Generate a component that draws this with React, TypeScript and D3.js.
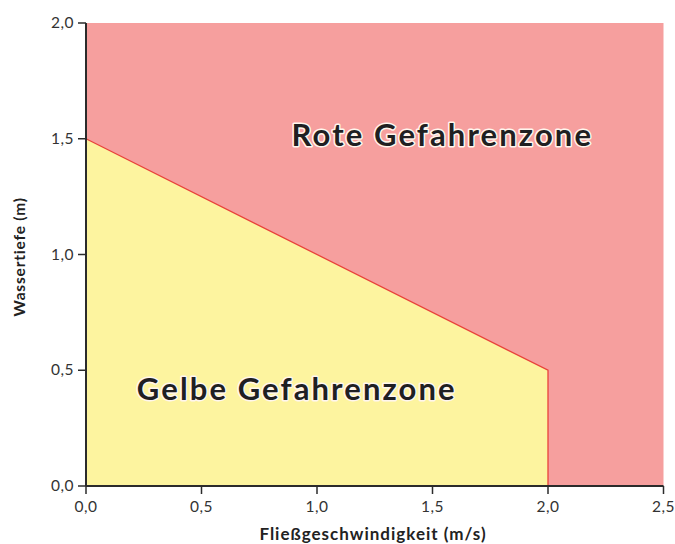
import React from 'react'
import * as d3 from 'd3'

// Grenzlinie zwischen gelber und roter Zone (Fließgeschwindigkeit, Wassertiefe)
const grenzeV = [0, 2.0, 2.0]
const grenzeH = [1.5, 0.5, 0.0]
const xTicks = [0, 0.5, 1.0, 1.5, 2.0, 2.5]
const yTicks = [0, 0.5, 1.0, 1.5, 2.0]
const zonen = ['Rote Gefahrenzone', 'Gelbe Gefahrenzone']
const zonenPos = [[0.89, 1.47], [0.22, 0.37]]

const fmt = (d: number) => d.toFixed(1).replace('.', ',')

export default function App() {
  const width = 675, height = 544
  const x = d3.scaleLinear().domain([0, 2.5]).range([86, 663.5])
  const y = d3.scaleLinear().domain([0, 2.0]).range([486, 23])

  const grenze = grenzeV.map((v, i) => [v, grenzeH[i]] as [number, number])
  const gelb: [number, number][] = [[0, 0], ...grenze]
  const line = d3.line<[number, number]>().x(d => x(d[0])).y(d => y(d[1]))

  const font = "Lato, 'Open Sans', sans-serif"

  return (
    <svg width={width} height={height} style={{ position: 'absolute', left: 0, top: 0, fontFamily: font }}>
      <rect x={x(0)} y={y(2)} width={x(2.5) - x(0)} height={y(0) - y(2)} fill="#f69f9e" />
      <path d={line(gelb) + 'Z'} fill="#fdf49f" />
      <path d={line(grenze) || ''} fill="none" stroke="#e8433b" strokeWidth={1.3} />

      {/* Achsen */}
      <line x1={x(0)} x2={x(0)} y1={y(2)} y2={y(0)} stroke="#2b2b2b" strokeWidth={2} />
      <line x1={x(0)} x2={x(2.5)} y1={y(0)} y2={y(0)} stroke="#2b2b2b" strokeWidth={2} />
      {yTicks.map(t => (
        <g key={'y' + t}>
          <line x1={x(0) - 8} x2={x(0)} y1={y(t)} y2={y(t)} stroke="#2b2b2b" strokeWidth={1.5} />
          <text x={x(0) - 12} y={y(t)} dy="0.33em" textAnchor="end" fontSize={15.5} letterSpacing={0.5} fill="#333">{fmt(t)}</text>
        </g>
      ))}
      {xTicks.map(t => (
        <g key={'x' + t}>
          <line x1={x(t)} x2={x(t)} y1={y(0)} y2={y(0) + 8} stroke="#2b2b2b" strokeWidth={1.5} />
          <text x={x(t)} y={y(0) + 26} textAnchor="middle" fontSize={15.5} letterSpacing={0.5} fill="#333">{fmt(t)}</text>
        </g>
      ))}
      <text x={373} y={540} textAnchor="middle" fontSize={17} fontWeight="bold" letterSpacing={1} fill="#222">Fließgeschwindigkeit (m/s)</text>
      <text transform={`translate(25,${y(0.99)}) rotate(-90)`} textAnchor="middle" fontSize={15.5} fontWeight="bold" letterSpacing={0.8} fill="#222">Wassertiefe (m)</text>

      {zonen.map((z, i) => (
        <text key={z} x={x(zonenPos[i][0])} y={y(zonenPos[i][1])} fontSize={31} fontWeight="bold" letterSpacing={2.1}
          fill="#1f1f22" stroke="#fff6ee" strokeWidth={3} paintOrder="stroke" strokeLinejoin="round">{z}</text>
      ))}
    </svg>
  )
}
